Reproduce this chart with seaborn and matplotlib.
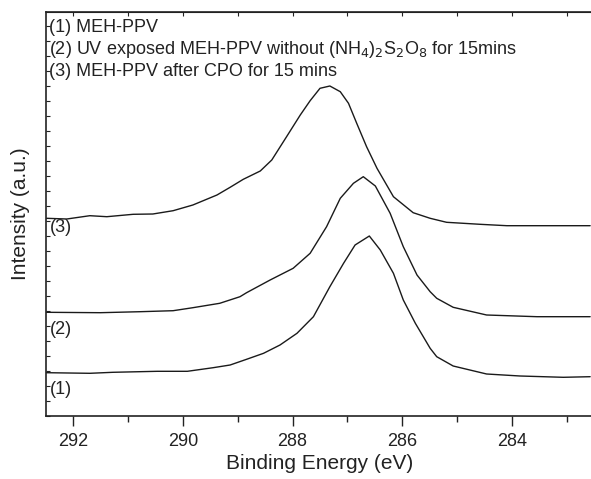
import numpy as np
import pandas as pd
import seaborn as sns
import matplotlib.pyplot as plt
from matplotlib.ticker import MultipleLocator

sns.set_style("ticks")
plt.rcParams['font.family'] = ['Liberation Sans', 'DejaVu Sans']

# C 1s spectra (binding energy in eV, intensity in arbitrary units)
be1 = [292.49, 291.70, 291.28, 290.47, 289.92, 289.45, 289.14, 288.84, 288.53, 288.23,
       287.92, 287.62, 287.32, 287.07, 286.86, 286.60, 286.40, 286.16, 285.98, 285.76,
       285.49, 285.37, 285.07, 284.46, 283.85, 283.06, 282.57]
int1 = [43.3, 42.7, 43.7, 44.7, 44.7, 48.3, 51.0, 56.7, 62.7, 71.0,
        82.7, 99.3, 129.3, 152.7, 171.0, 180.0, 166.0, 142.7, 116.0, 92.7,
        67.7, 59.3, 50.0, 42.0, 40.0, 38.7, 39.3]

be2 = [292.49, 291.51, 290.78, 290.18, 289.82, 289.33, 288.96, 288.84, 288.41, 287.99,
       287.68, 287.38, 287.13, 286.89, 286.71, 286.49, 286.22, 285.98, 285.73, 285.49,
       285.37, 285.07, 284.46, 283.54, 282.57]
int2 = [103.7, 103.3, 104.3, 105.3, 108.3, 112.7, 119.3, 123.3, 136.0, 147.7,
        162.7, 189.3, 217.7, 232.7, 239.3, 230.0, 202.7, 169.3, 141.0, 124.3,
        117.7, 108.7, 101.0, 99.3, 99.3]

be3 = [292.49, 292.12, 291.70, 291.39, 290.91, 290.55, 290.18, 289.82, 289.38, 289.14,
       288.90, 288.59, 288.38, 288.11, 287.86, 287.68, 287.50, 287.32, 287.13, 286.98,
       286.83, 286.65, 286.46, 286.16, 285.80, 285.49, 285.19, 284.58, 284.09, 283.25, 282.57]
int3 = [197.7, 197.0, 200.3, 199.3, 201.7, 202.0, 205.3, 211.0, 221.0, 228.7,
        236.7, 245.0, 256.0, 279.3, 301.0, 315.3, 327.7, 330.0, 324.3, 312.7,
        292.7, 269.3, 247.7, 219.3, 203.3, 197.7, 193.7, 191.7, 190.3, 190.3, 190.3]

curve_labels = ["(1)", "(2)", "(3)"]
label_y = [26, 86, 188]
legend_lines = ["(1) MEH-PPV",
                r"(2) UV exposed MEH-PPV without (NH$_4$)$_2$S$_2$O$_8$ for 15mins",
                "(3) MEH-PPV after CPO for 15 mins"]

fig = plt.figure(figsize=(5.91, 4.79), dpi=100)
ax = fig.add_axes([46 / 591, 63 / 479, 548 / 591, 404 / 479])

for be, inten in [(be1, int1), (be2, int2), (be3, int3)]:
    df = pd.DataFrame({"be": be, "i": inten})
    sns.lineplot(data=df, x="be", y="i", ax=ax, color="#1a1a1a", linewidth=1.0)

ax.set_xlim(292.5, 282.5)
ax.set_ylim(0, 404)

ax.xaxis.set_major_locator(MultipleLocator(2))
ax.xaxis.set_minor_locator(MultipleLocator(1))
ax.yaxis.set_major_locator(MultipleLocator(15))
ax.set_yticklabels([])
ax.tick_params(axis='x', which='major', direction='out', length=7, width=1,
               labelsize=13, colors='#222222', pad=5)
ax.tick_params(axis='x', which='minor', direction='out', length=4, width=1, colors='#222222')
ax.tick_params(axis='y', which='major', direction='in', length=3, width=0.8, colors='#222222')

# inward ticks along the top edge
top = ax.secondary_xaxis('top')
top.xaxis.set_major_locator(MultipleLocator(1))
top.tick_params(direction='in', length=3, width=0.8, labeltop=False, colors='#222222')

for sp in ax.spines.values():
    sp.set_linewidth(1.2)
    sp.set_color('#222222')

ax.set_xlabel("Binding Energy (eV)", fontsize=15, color='#222222', labelpad=3)
ax.set_ylabel("Intensity (a.u.)", fontsize=15, color='#222222', labelpad=8)

for lab, y in zip(curve_labels, label_y):
    ax.text(292.43, y, lab, fontsize=13, color='#222222', va='center', ha='left')

for k, line in enumerate(legend_lines):
    ax.text(0.005, 0.962 - k * 0.055, line, transform=ax.transAxes, fontsize=13,
            color='#222222', va='center', ha='left')

fig.savefig("out.png", dpi=100)
